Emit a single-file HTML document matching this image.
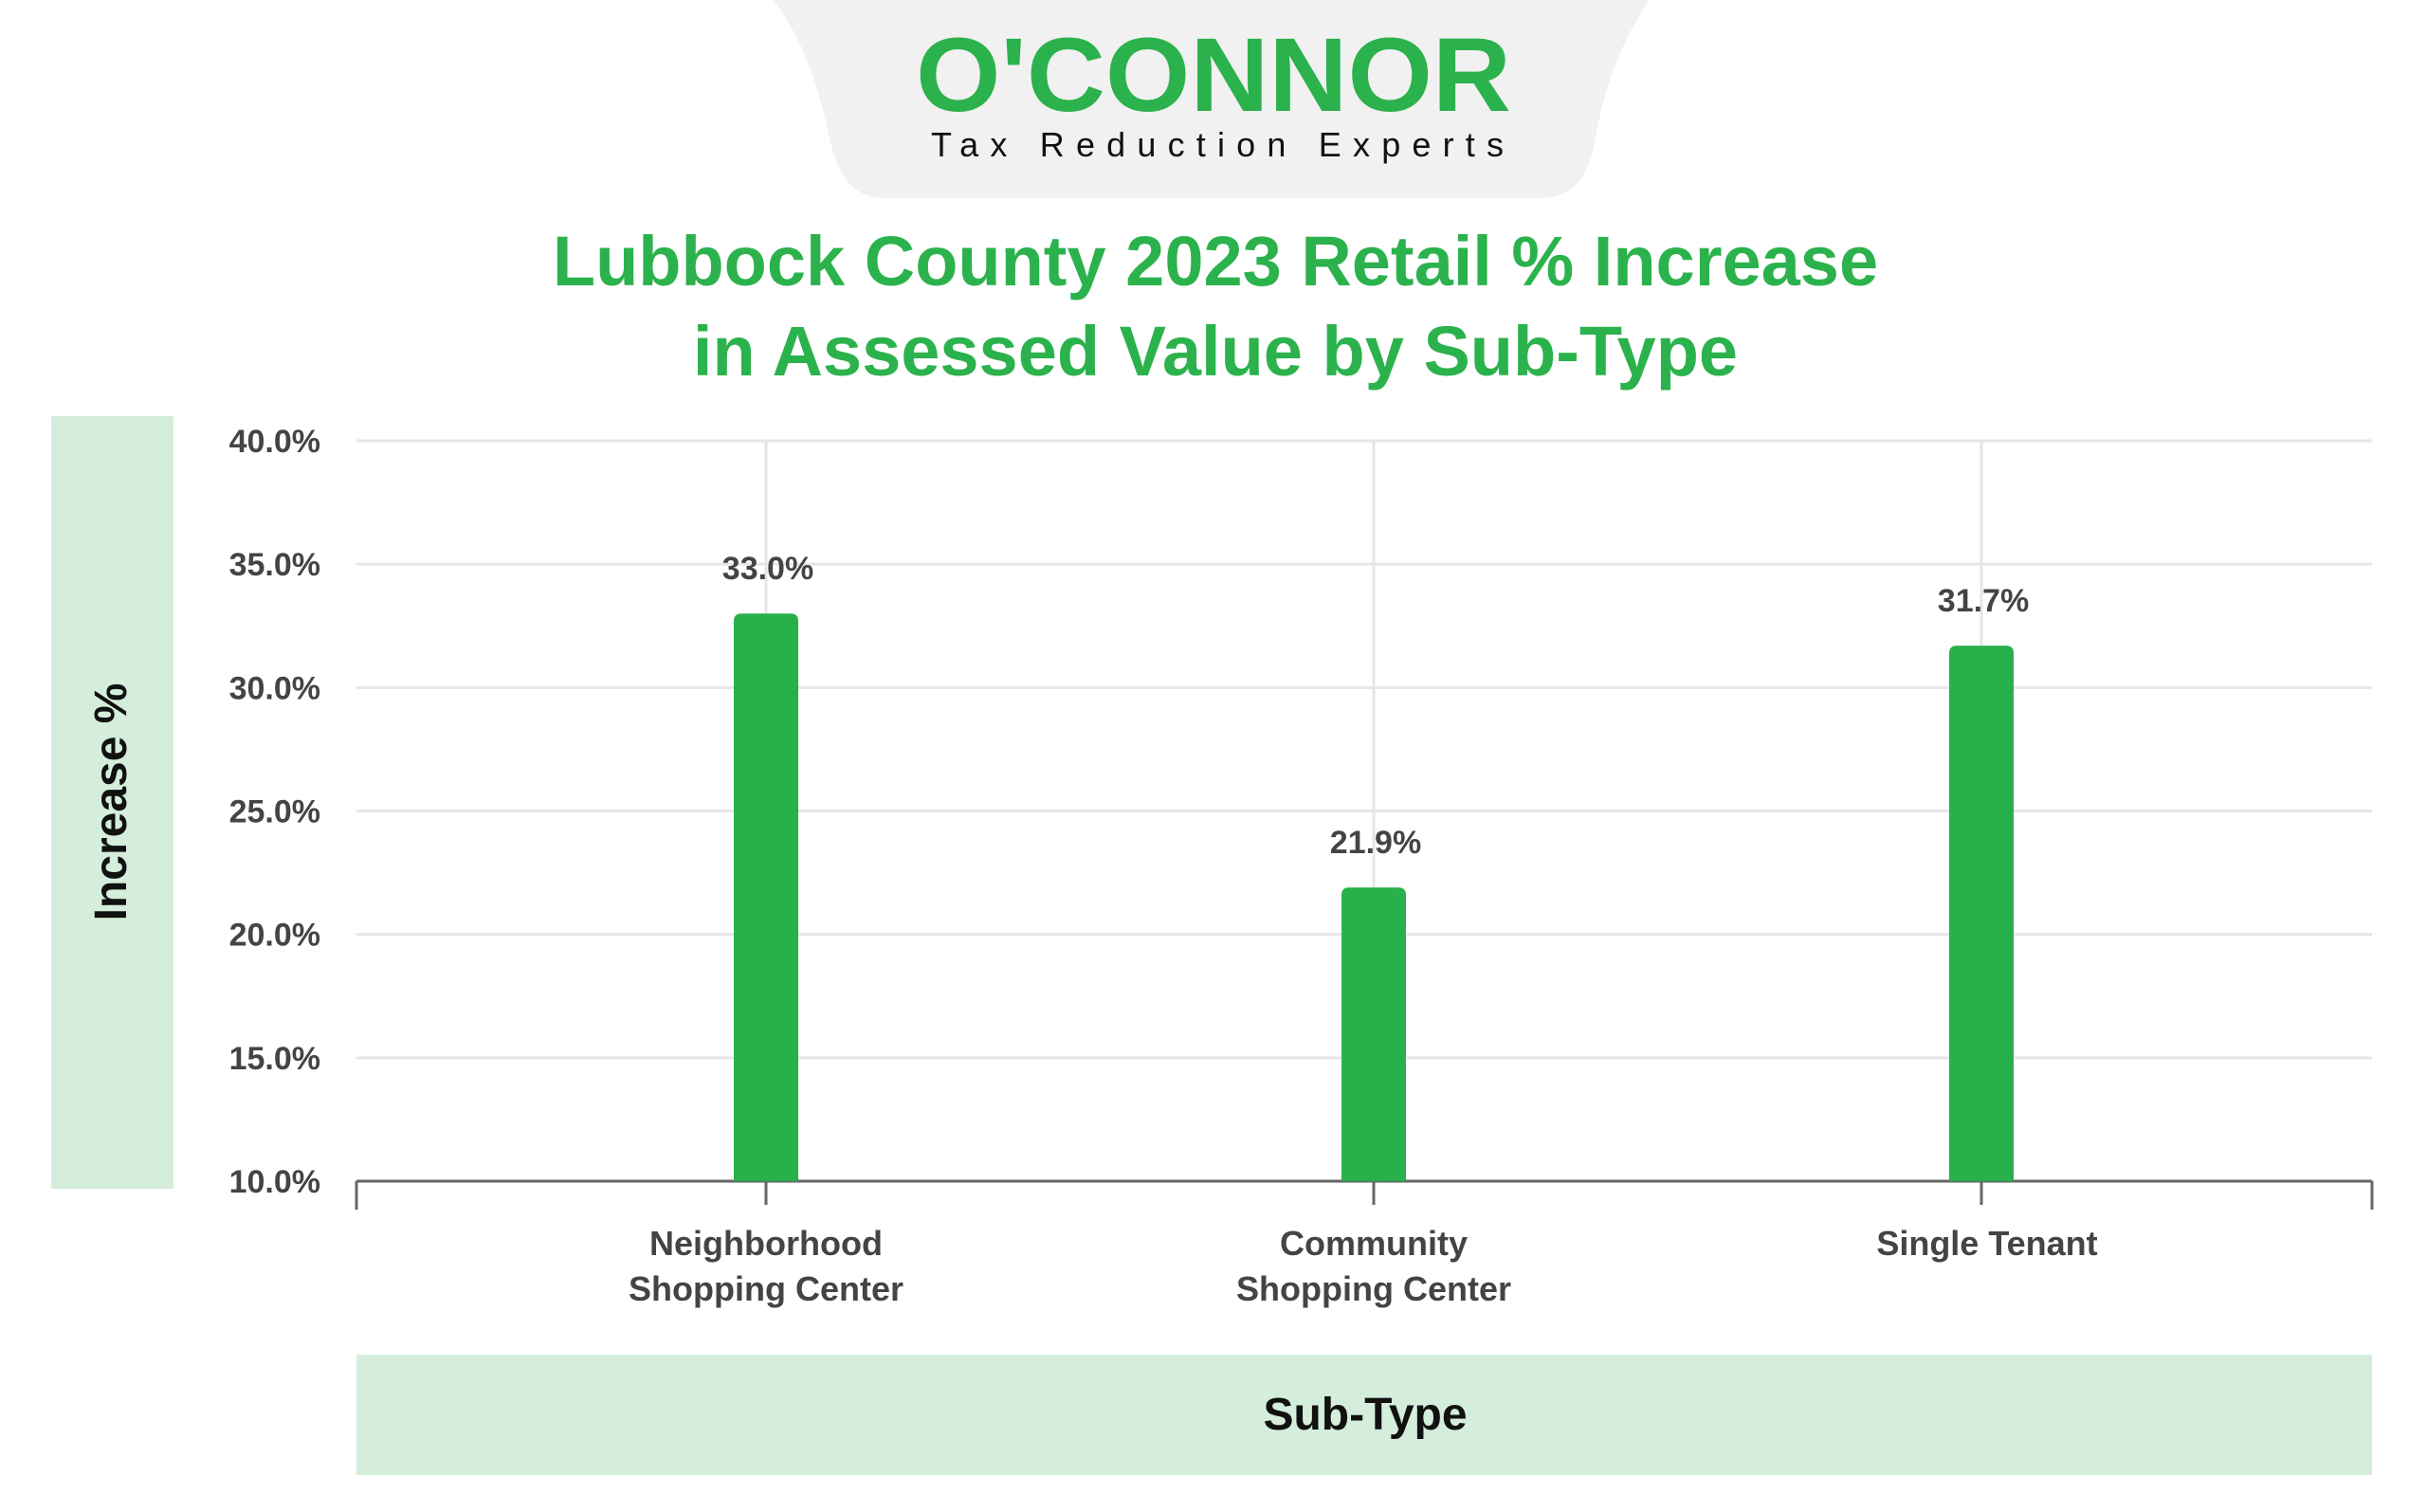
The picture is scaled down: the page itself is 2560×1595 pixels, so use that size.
<!DOCTYPE html>
<html><head><meta charset="utf-8"><style>
html,body{margin:0;padding:0;background:#fff;}
body{width:2560px;height:1590px;overflow:hidden;font-family:"Liberation Sans",sans-serif;}
</style></head><body>
<svg id="chart" width="2560" height="1590" viewBox="0 0 2560 1590" xmlns="http://www.w3.org/2000/svg">
<path d="M816 0 L1740 0 C1712 40 1692 90 1682 150 C1674 195 1652 209 1622 209 L936 209 C901 209 886 190 876 150 C864 90 846 40 816 0 Z" fill="#f1f1f1"/>
<text x="1280" y="117" text-anchor="middle" font-size="110" font-weight="bold" fill="#2bb24c" textLength="628" lengthAdjust="spacingAndGlyphs">O'CONNOR</text>
<text x="1284" y="165" text-anchor="middle" font-size="36" fill="#111" textLength="604" lengthAdjust="spacing">Tax Reduction Experts</text>
<text x="1282" y="301" text-anchor="middle" font-size="74" font-weight="bold" fill="#2bb24c">Lubbock County 2023 Retail % Increase</text>
<text x="1282" y="396" text-anchor="middle" font-size="74" font-weight="bold" fill="#2bb24c">in Assessed Value by Sub-Type</text>
<rect x="54" y="439" width="129" height="815" fill="#d4eedb"/>
<text transform="translate(133,846) rotate(-90)" text-anchor="middle" font-size="48" font-weight="bold" fill="#111">Increase %</text>
<rect x="376" y="1429" width="2126" height="127" fill="#d4eedb"/>
<text x="1440" y="1508" text-anchor="middle" font-size="48" font-weight="bold" fill="#111">Sub-Type</text>
<g id="grid"></g><g id="bars"></g><g id="labels"></g>
</svg>
<script>
const categories = [["Neighborhood","Shopping Center"],["Community","Shopping Center"],["Single Tenant"]];
const values = [33.0, 21.9, 31.7];
const valueLabels = ["33.0%","21.9%","31.7%"];
const yTicks = [10,15,20,25,30,35,40];
const yTickLabels = ["10.0%","15.0%","20.0%","25.0%","30.0%","35.0%","40.0%"];
const NS="http://www.w3.org/2000/svg";
const plotL=376, plotR=2502, yTop=465, yBot=1246, yMin=10, yMax=40;
function y(v){return yBot-(v-yMin)/(yMax-yMin)*(yBot-yTop);}
function x(i){return 808+i*641;}
function mk(tag,attrs,parent,txt){const e=document.createElementNS(NS,tag);for(const k in attrs)e.setAttribute(k,attrs[k]);if(txt!==undefined)e.textContent=txt;parent.appendChild(e);return e;}
const grid=document.getElementById('grid'), bars=document.getElementById('bars'), labels=document.getElementById('labels');
yTicks.forEach((t,i)=>{
  if(t>yMin){const l=mk('line',{x1:plotL,x2:plotR,y1:y(t),y2:y(t),stroke:'#e6e6e6','stroke-width':3},grid);
  
  }
  const tx=mk('text',{x:338,y:y(t)+12,'text-anchor':'end','font-size':34,'font-weight':'bold',fill:'#444'},labels,yTickLabels[i]);
  
  
});
categories.forEach((c,i)=>{
  const g=mk('line',{x1:x(i),x2:x(i),y1:yTop,y2:yBot,stroke:'#e6e6e6','stroke-width':3},grid);
  
  
});
const ax=mk('line',{x1:plotL,x2:plotR,y1:yBot,y2:yBot,stroke:'#666','stroke-width':3},grid);


[plotL,plotR].forEach(px=>{const t=mk('line',{x1:px,x2:px,y1:yBot,y2:yBot+30,stroke:'#666','stroke-width':3},grid);

});
values.forEach((v,i)=>{
  const bw=68, bx=x(i)-bw/2, by=y(v), r=8;
  const p=mk('path',{d:`M${bx} ${yBot} L${bx} ${by+r} Q${bx} ${by} ${bx+r} ${by} L${bx+bw-r} ${by} Q${bx+bw} ${by} ${bx+bw} ${by+r} L${bx+bw} ${yBot} Z`,fill:'#28b04a'},bars);
  
  
  const vl=mk('text',{x:x(i)+2,y:by-36,'text-anchor':'middle','font-size':34,'font-weight':'bold',fill:'#444'},labels,valueLabels[i]);
  
  
  const tk=mk('line',{x1:x(i),x2:x(i),y1:yBot,y2:yBot+25,stroke:'#666','stroke-width':3},grid);
  
  
  categories[i].forEach((line,j)=>{
    const cl=mk('text',{x:x(i)+(i==2?6:0),y:1324+j*48,'text-anchor':'middle','font-size':36,'font-weight':'bold',fill:'#444'},labels,line);
    
    
  });
});
</script>
</body></html>
